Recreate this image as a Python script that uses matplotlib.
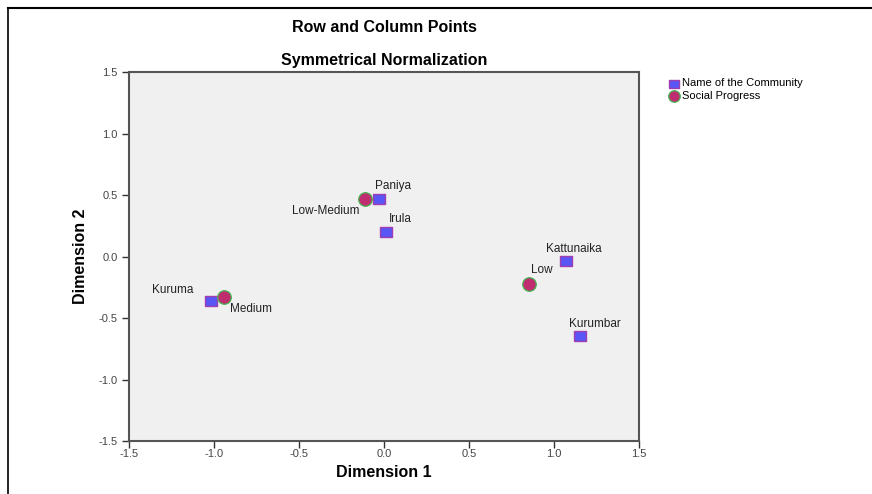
import numpy as np
import matplotlib
matplotlib.use('Agg')
from matplotlib import pyplot as plt
from matplotlib.lines import Line2D

plt.rcParams['font.family'] = ['Liberation Sans', 'DejaVu Sans']

# row points (communities)
communities = ['Paniya', 'Irula', 'Kuruma', 'Kattunaika', 'Kurumbar']
comm_x = [-0.03, 0.01, -1.02, 1.07, 1.15]
comm_y = [0.47, 0.20, -0.36, -0.04, -0.65]

# column points (social progress)
progress = ['Low-Medium', 'Medium', 'Low']
prog_x = [-0.11, -0.94, 0.85]
prog_y = [0.47, -0.33, -0.22]

ticks = [-1.5, -1.0, -0.5, 0.0, 0.5, 1.0, 1.5]

# label offsets in pixels (dx, dy, ha)
comm_off = [(-4, 13, 'left'), (3, 13, 'left'), (-17, 11, 'right'), (8, 12, 'center'), (15, 12, 'center')]
prog_off = [(-6, -12, 'right'), (6, -12, 'left'), (2, 14, 'left')]

# slightly wide rectangle marker, like the SPSS square
rect = [(-1.3, -1), (1.3, -1), (1.3, 1), (-1.3, 1), (-1.3, -1)]

fig = plt.figure(figsize=(8.72, 4.94), dpi=100)
ax = fig.add_axes([129/872, 1-441/494, 510/872, 369/494])
ax.set_facecolor('#f0f0f0')

ax.scatter(comm_x, comm_y, marker=rect, s=80, color='#5a55f5', edgecolors='#a040b0',
           linewidths=1, zorder=3, label='Name of the Community')
ax.scatter(prog_x, prog_y, marker='o', s=95, color='#c02c70', edgecolors='#46b450',
           linewidths=0.9, zorder=3, label='Social Progress')

for name, x, y, (dx, dy, ha) in zip(communities, comm_x, comm_y, comm_off):
    ax.annotate(name, (x, y), xytext=(dx, dy), textcoords='offset pixels',
                ha=ha, va='center', fontsize=8.5, color='#222222')
for name, x, y, (dx, dy, ha) in zip(progress, prog_x, prog_y, prog_off):
    ax.annotate(name, (x, y), xytext=(dx, dy), textcoords='offset pixels',
                ha=ha, va='center', fontsize=8.5, color='#222222')

ax.set_xlim(-1.5, 1.5)
ax.set_ylim(-1.5, 1.5)
ax.set_xticks(ticks)
ax.set_yticks(ticks)
ax.set_xticklabels(['%.1f' % t for t in ticks])
ax.set_yticklabels(['%.1f' % t for t in ticks])
ax.tick_params(labelsize=8, labelcolor='#444444', color='#333333', length=5, width=1, pad=1)
ax.tick_params(axis='y', pad=3)
for s in ax.spines.values():
    s.set_color('#555555')
    s.set_linewidth(1.5)

ax.set_xlabel('Dimension 1', fontsize=11.5, fontweight='bold', labelpad=4)
ax.set_ylabel('Dimension 2', fontsize=11.5, fontweight='bold', fontstretch='condensed', labelpad=8)

fig.text(384/872, 1-28/494, 'Row and Column Points', ha='center', va='center', fontsize=11.5, fontweight='bold')
fig.text(384/872, 1-60/494, 'Symmetrical Normalization', ha='center', va='center', fontsize=11.5, fontweight='bold')

ax.legend(loc='upper left', bbox_to_anchor=(664/872, 1-74/494), bbox_transform=fig.transFigure,
          frameon=False, fontsize=8, handletextpad=0.25, borderaxespad=0, labelspacing=0.2,
          handlelength=1.0, markerscale=0.85)

# outer frame lines
fig.add_artist(Line2D([8/872, 1], [1-8/494, 1-8/494], color='black', lw=1.5))
fig.add_artist(Line2D([8/872, 8/872], [0, 1-8/494], color='black', lw=1.2))

fig.savefig('out.png', dpi=100)
